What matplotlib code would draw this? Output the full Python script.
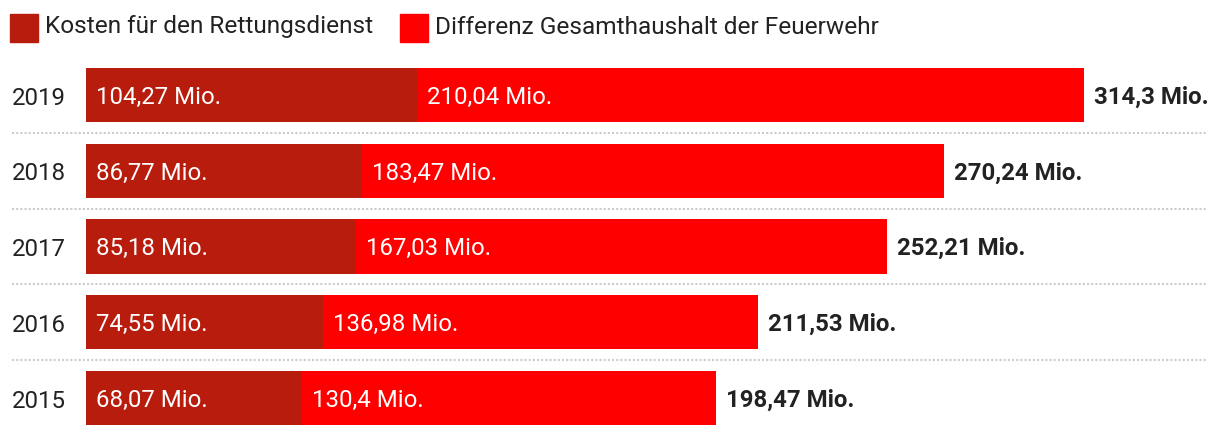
import matplotlib.pyplot as plt
from matplotlib.patches import Rectangle

plt.rcParams['font.family'] = ['Roboto', 'DejaVu Sans']

years = ['2015', '2016', '2017', '2018', '2019']
rettung = [68.07, 74.55, 85.18, 86.77, 104.27]
differenz = [130.4, 136.98, 167.03, 183.47, 210.04]
totals = [198.47, 211.53, 252.21, 270.24, 314.3]
legend_labels = ['Kosten für den Rettungsdienst', 'Differenz Gesamthaushalt der Feuerwehr']

dark = '#b81c0c'
red = '#ff0000'
txt = '#222222'

W, H = 1220, 438
fig = plt.figure(figsize=(W / 100, H / 100), dpi=100)

# axes placed so bars start at x=86px, 314.3 ends at 1084px
x0, x1 = 86, 1084
top, bottom = 57.1, 435.9
ax = fig.add_axes([x0 / W, 1 - bottom / H, (x1 - x0) / W, (bottom - top) / H])
ax.set_xlim(0, 314.3)
ax.set_ylim(-0.5, len(years) - 0.5)
ax.axis('off')

def fmt(v):
    return f'{v:g}'.replace('.', ',') + ' Mio.'

ypos = range(len(years))
ax.barh(ypos, rettung, height=0.713, color=dark)
ax.barh(ypos, differenz, left=rettung, height=0.713, color=red)

px = 314.3 / (x1 - x0)  # data units per pixel
fs = 17.3
dy = -0.03  # nudge text down a little
for i, y in enumerate(years):
    ax.text(10 * px, i + dy, fmt(rettung[i]), color='white', fontsize=fs,
            va='center', ha='left')
    ax.text(rettung[i] + 10 * px, i + dy, fmt(differenz[i]), color='white', fontsize=fs,
            va='center', ha='left')
    ax.text(totals[i] + 10 * px, i + dy, fmt(totals[i]), color=txt, fontsize=fs,
            fontweight='bold', va='center', ha='left', clip_on=False)
    ax.text(-74 * px, i + dy - 0.01, y, color=txt, fontsize=fs, va='center', ha='left',
            clip_on=False)

# dotted separators between rows
for i in range(len(years) - 1):
    ax.axhline(i + 0.5, xmin=(12 - x0) / (x1 - x0), xmax=(1207 - x0) / (x1 - x0),
               color='#cccccc', lw=1.5, linestyle=(0, (1, 1)), clip_on=False)

# legend
for (sx, tx), lab, col in zip([(10, 45), (400, 435)], legend_labels, [dark, red]):
    fig.patches.append(Rectangle((sx / W, 1 - 42 / H), 28 / W, 28 / H,
                                 transform=fig.transFigure, color=col))
    fig.text(tx / W, 1 - 27 / H, lab, color=txt, fontsize=17.6, va='center', ha='left')

fig.savefig('out.png', dpi=100)
